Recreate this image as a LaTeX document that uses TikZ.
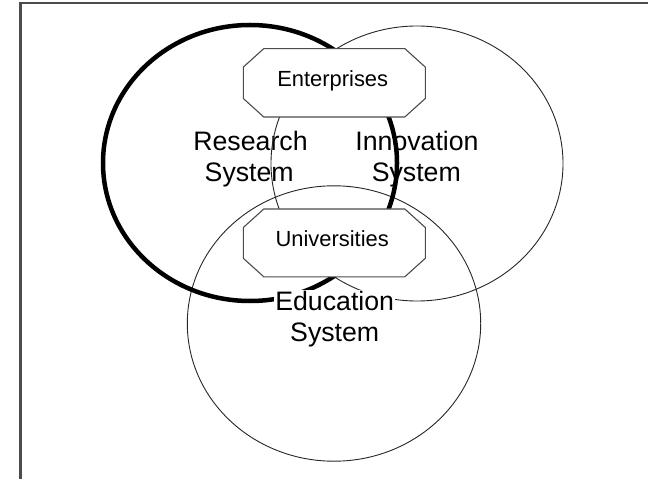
\documentclass[tikz,border=0pt]{standalone}
\usepackage{fontspec}
\setmainfont{Liberation Sans}
\begin{document}
\begin{tikzpicture}[x=1bp,y=-1bp,
  framepen/.style={draw=black!70, line width=2.4bp},
  thinring/.style={draw=black!85, line width=0.9bp},
  thickring/.style={draw=black, line width=4.5bp},
  octbox/.style={draw=black!70, line width=1.1bp, fill=white, line join=miter},
  boxlabel/.style={font=\fontsize{22}{26}\selectfont, inner sep=0pt, anchor=base},
  syslabel/.style={font=\fontsize{26.8}{31}\selectfont, inner sep=0pt, anchor=base},
  edulabel/.style={syslabel, fill=white, inner sep=1.2bp}]
\useasboundingbox (0,0) rectangle (648,479);
% frame (top and left edges only visible)
\draw[framepen] (20.5,479) -- (20.5,3) -- (648,3);
% centres
\coordinate (rc) at (250,163);
\coordinate (ic) at (417,163.5);
\coordinate (ec) at (334,323.5);
\coordinate (ent) at (334.3,82.8);
\coordinate (uni) at (334.3,242.9);
% labels without background
\node[syslabel] (res1) at (250.5,151) {Research};
\node[syslabel] (res2) at (249.2,181.5) {System};
\node[syslabel] (inn1) at (417,151) {Innovation};
\node[syslabel] (inn2) at (416.3,181.5) {System};
% rings
\draw[thinring] (ic) ellipse [x radius=146bp, y radius=137.5bp];
\draw[thinring] (ec) ellipse [x radius=146.7bp, y radius=137.7bp];
\draw[thickring] (rc) ellipse [x radius=147bp, y radius=138bp];
% education label with white ground
\node[edulabel] (edu1) at (334.7,310.7) {Education};
\node[edulabel] (edu2) at (334.7,341.7) {System};
% octagon boxes
\draw[octbox, shift={(ent)}] (-70.5,-34.2) -- (70.5,-34.2) -- (91,-15.7) -- (91,15.7) -- (70.5,34.2) -- (-70.5,34.2) -- (-91,15.7) -- (-91,-15.7) -- cycle;
\draw[octbox, shift={(uni)}] (-70.5,-33.9) -- (70.5,-33.9) -- (91,-15.4) -- (91,15.4) -- (70.5,33.9) -- (-70.5,33.9) -- (-91,15.4) -- (-91,-15.4) -- cycle;
\node[boxlabel] (entl) at (332.7,86.3) {Enterprises};
\node[boxlabel] (unil) at (332.2,246.7) {Universities};
\end{tikzpicture}
\end{document}
